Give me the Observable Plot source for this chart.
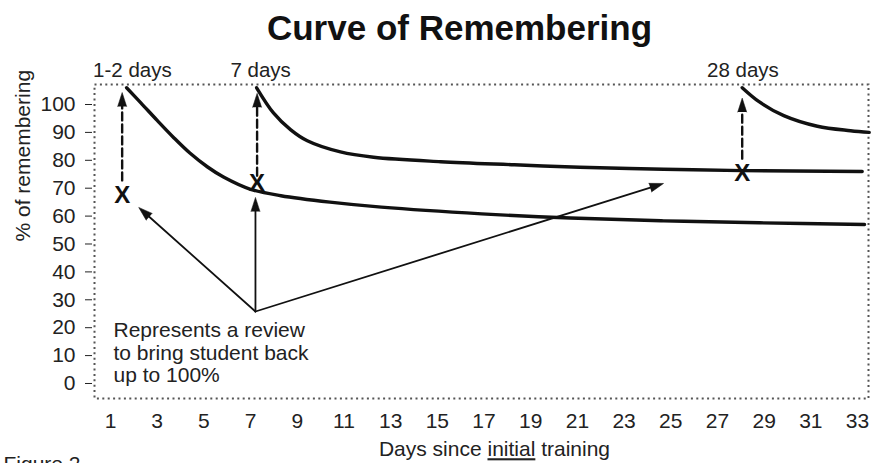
<!DOCTYPE html>
<html><head><meta charset="utf-8">
<script src="https://cdn.jsdelivr.net/npm/d3@7"></script>
<script src="https://cdn.jsdelivr.net/npm/@observablehq/plot@0.6"></script>
<style>html,body{margin:0;padding:0;background:#fff;overflow:hidden}</style>
</head><body><div id="chart"></div>
<script>
// ---- data ----
const titleText = "Curve of Remembering";
const xLabelText = "Days since initial training";
const yLabelText = "% of remembering";
const noteText = "Represents a review\nto bring student back\nup to 100%";
const figureText = "Figure 2";

const xTicks = [1,3,5,7,9,11,13,15,17,19,21,23,25,27,29,31,33];
const yTicks = [0,10,20,30,40,50,60,70,80,90,100];

const curve1Day = [1.69, 2.3, 3.0, 3.7, 4.4, 5.16, 5.84, 7.0, 8.3, 10.4, 12.6, 16.9, 20.7, 24.7, 28.8, 33.3];
const curve1Pct = [106, 100.6, 94.3, 88.2, 82.6, 77.6, 74.0, 69.6, 67.3, 65.0, 63.2, 60.8, 59.3, 58.3, 57.6, 57.0];
const curve2Day = [7.26, 7.98, 8.71, 9.43, 10.85, 12.27, 15.14, 18.3, 21.1, 24.7, 28.06, 33.2];
const curve2Pct = [106, 97.0, 91.0, 87.0, 83.0, 81.1, 79.5, 78.4, 77.5, 76.8, 76.3, 76.0];
const curve3Day = [28.06, 28.78, 29.84, 31.28, 32.7, 33.5];
const curve3Pct = [106, 101.0, 96.0, 92.2, 90.6, 90.0];

const reviewLabels = ["1-2 days", "7 days", "28 days"];
const reviewLabelDay = [1.94, 7.43, 28.09];
const reviewLabelPct = [112.2, 112.2, 112.2];

const markDay = [1.5, 7.28, 28.06];
const markPct = [67.4, 71.6, 75.2];
const reviewFromPct = [72.8, 74.5, 80.6];
const reviewToPct = [104.3, 104.0, 102.3];

const pointerFromDay = 7.21;
const pointerFromPct = 25.8;
const pointerToDay = [2.21, 7.21, 24.69];
const pointerToPct = [63.1, 66.7, 71.7];

const noteDay = 1.13;
const notePct = 22.2;

// ---- layout ----
const W = 873, H = 463;
const mT = 84, mB = 65, mL = 94, mR = 5;
const xDomain = [0.315, 33.47];
const yDomain = [-5.38, 107.17];
const ink = "#111";

// build tables
const mk = (days, pcts, id) => days.map((d, i) => ({day: d, pct: pcts[i], id}));
const curves = [...mk(curve1Day, curve1Pct, 1), ...mk(curve2Day, curve2Pct, 2), ...mk(curve3Day, curve3Pct, 3)];
const marks = markDay.map((d, i) => ({day: d, pct: markPct[i]}));
const reviews = markDay.map((d, i) => ({day: d, from: reviewFromPct[i], to: reviewToPct[i]}));
const labels = reviewLabels.map((t, i) => ({t, day: reviewLabelDay[i], pct: reviewLabelPct[i]}));
const pointers = pointerToDay.map((d, i) => ({x1: pointerFromDay, y1: pointerFromPct, x2: d, y2: pointerToPct[i]}));

// screen-space angles for the filled arrowheads
const sx = d3.scaleLinear(xDomain, [mL, W - mR]);
const sy = d3.scaleLinear(yDomain, [H - mB, mT]);
const angle = (a) => Math.atan2(sx(a.x2) - sx(a.x1), -(sy(a.y2) - sy(a.y1))) * 180 / Math.PI;
const heads = [
  ...reviews.map(r => ({x: r.day, y: r.to, rot: 0})),
  ...pointers.map(p => ({x: p.x2, y: p.y2, rot: angle(p)}))
];

const chart = Plot.plot({
  width: W, height: H,
  marginTop: mT, marginBottom: mB, marginLeft: mL, marginRight: mR,
  x: {domain: xDomain},
  y: {domain: yDomain},
  style: {fontFamily: "'Liberation Sans', Arial, sans-serif", fontSize: "21px", color: "#222", background: "#fff"},
  marks: [
    Plot.frame({stroke: "#555", strokeWidth: 2, strokeDasharray: "2,3.4"}),
    Plot.axisY({ticks: yTicks, tickSize: 7, tickPadding: 10, dx: -2, label: null, fontSize: 21}),
    Plot.axisX({ticks: xTicks, tickSize: 0, tickPadding: 15, label: null, fontSize: 21}),
    Plot.line(curves, {x: "day", y: "pct", z: "id", curve: "catmull-rom", stroke: ink, strokeWidth: 3.4}),
    Plot.arrow(reviews, {x: "day", y1: "from", y2: "to", stroke: ink, strokeWidth: 2.4, strokeDasharray: "8,4", headLength: 0, insetEnd: 8}),
    Plot.arrow(pointers, {x1: "x1", y1: "y1", x2: "x2", y2: "y2", stroke: ink, strokeWidth: 1.8, headLength: 0, insetEnd: 8}),
    Plot.vector(heads, {x: "x", y: "y", rotate: "rot", length: 14, r: 4.5, shape: "spike", anchor: "end", fill: ink, stroke: ink, strokeWidth: 0.5}),
    Plot.text(marks, {x: "day", y: "pct", text: () => "X", fontSize: 24, fontWeight: "bold", fill: ink, lineAnchor: "middle"}),
    Plot.text(labels, {x: "day", y: "pct", text: "t", fontSize: 20.5, fill: "#222", lineAnchor: "middle"}),
    Plot.text([noteText], {x: () => noteDay, y: () => notePct, text: d => d, textAnchor: "start", lineAnchor: "top", fontSize: 21, lineHeight: 1.06, fill: "#222"}),
    Plot.text([titleText], {frameAnchor: "top", text: d => d, dx: -22, dy: -56, lineAnchor: "middle", fontSize: 35, fontWeight: "bold", fill: "#111"}),
    Plot.text([xLabelText], {frameAnchor: "bottom", text: d => d, dx: 13, dy: 51, lineAnchor: "middle", fontSize: 21, fill: "#222"}),
    Plot.text([yLabelText], {frameAnchor: "left", text: d => d, dx: -71, rotate: -90, lineAnchor: "middle", fontSize: 21, fill: "#222"}),
    Plot.text([figureText], {frameAnchor: "bottom-left", text: d => d, dx: -91, dy: 58, textAnchor: "start", lineAnchor: "top", fontSize: 21, fill: "#222"})
  ]
});

// underline "initial" in the x label
d3.select(chart).selectAll("text").filter(function () { return this.textContent === xLabelText; }).each(function () {
  const t = d3.select(this);
  t.text(null);
  t.append("tspan").text("Days since ");
  t.append("tspan").style("text-decoration", "underline").text("initial");
  t.append("tspan").text(" training");
});

document.getElementById("chart").appendChild(chart);
</script>
</body></html>
